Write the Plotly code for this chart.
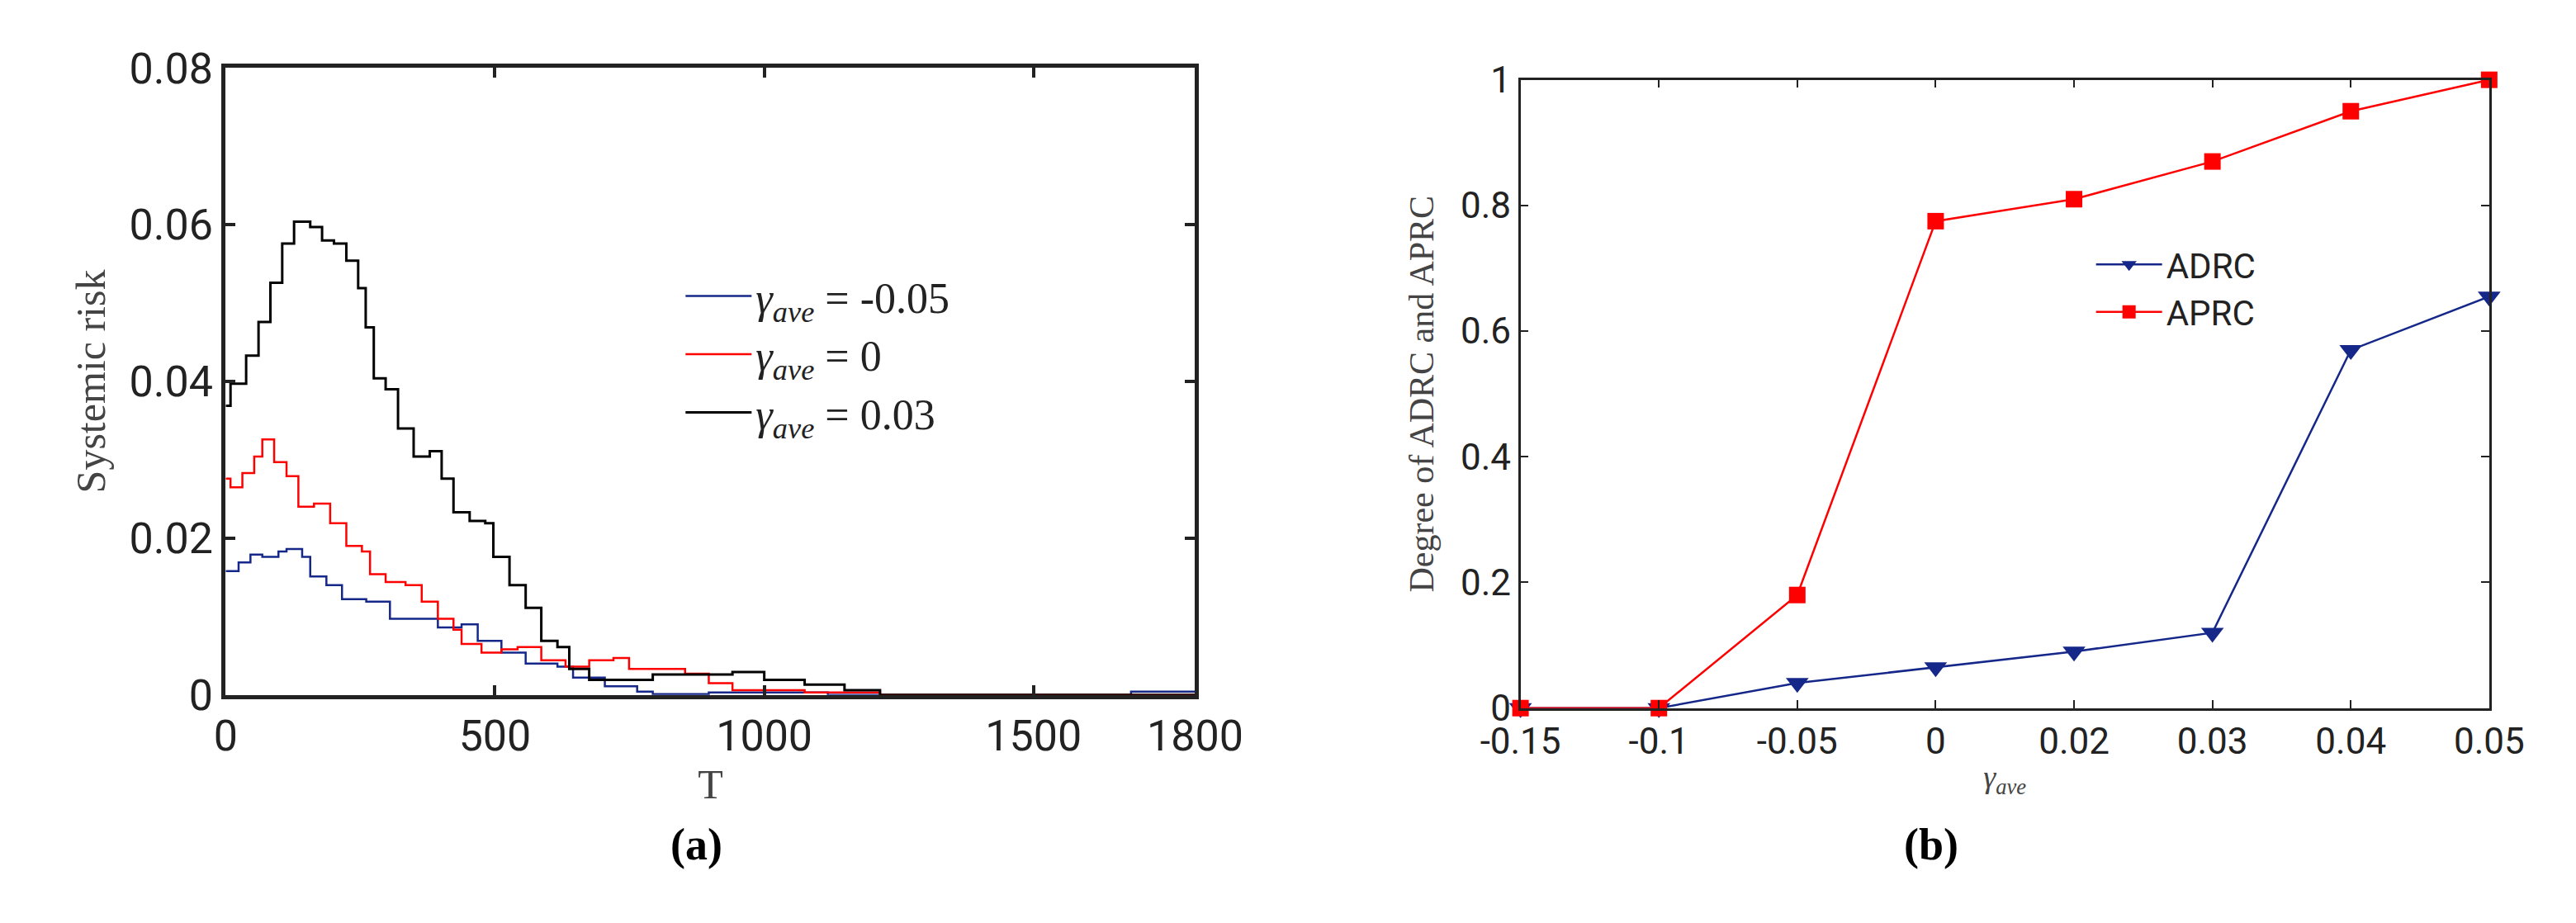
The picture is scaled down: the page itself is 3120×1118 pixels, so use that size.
import plotly.graph_objects as go

# Panel (a): systemic risk vs T (step curves)
T_black = [0,9,38,61,83,105,127,157,179,201,224,246,260,275,297,320,349,379,401,423,453,482,497,527,557,586,616,638,675,734,793,853,941,1000,1075,1149,1215,1800]
R_black = [0.0369,0.0397,0.0433,0.0476,0.0526,0.0576,0.0604,0.0597,0.058,0.0576,0.0554,0.0519,0.0469,0.0404,0.039,0.034,0.0304,0.0311,0.0276,0.0233,0.0222,0.0219,0.0176,0.014,0.0111,0.0069,0.0061,0.0033,0.0019,0.0019,0.0026,0.0026,0.0029,0.0019,0.0013,0.0006,0.0,0.0]
T_red = [0,9,31,53,68,90,113,135,164,194,224,253,268,297,334,364,394,423,438,475,512,542,586,631,675,720,749,823,853,897,941,1075,1215,1800]
R_red = [0.0276,0.0265,0.0283,0.0304,0.0326,0.0297,0.0279,0.024,0.0244,0.0219,0.019,0.0183,0.0154,0.0144,0.014,0.0119,0.0097,0.0083,0.0065,0.0054,0.0058,0.0061,0.0044,0.0036,0.0044,0.0047,0.0033,0.0033,0.0027,0.0015,0.0006,0.0003,0.0,0.0]
T_blue = [0,24,46,68,98,113,142,157,187,216,261,290,305,349,394,438,468,512,557,616,645,704,764,793,897,1104,1118,1681,1800]
R_blue = [0.0158,0.0169,0.0179,0.0176,0.0183,0.0186,0.0176,0.0151,0.014,0.0122,0.0119,0.0119,0.0097,0.0097,0.0086,0.009,0.0069,0.0054,0.004,0.0036,0.0022,0.0011,0.0004,0.0001,0.0003,0.0003,0.0,0.0004,0.0004]

# Panel (b)
gamma_labels = ["-0.15","-0.1","-0.05","0","0.02","0.03","0.04","0.05"]
ADRC = [0,0,0.04,0.065,0.09,0.12,0.57,0.655]
APRC = [0,0,0.18,0.775,0.81,0.87,0.95,1.0]

BLUE = "#15288a"
RED = "#ff0000"
SANS = "Liberation Sans Narrow, Roboto, sans-serif"
TICKF = dict(family=SANS, size=52, color="#222")
SERIF = "Liberation Serif, DejaVu Serif, serif"

fig = go.Figure()
fig.add_trace(go.Scatter(x=T_blue, y=R_blue, mode="lines", line=dict(color=BLUE, width=2.5, shape="hv"),
                         name="<i>γ<sub>ave</sub></i> = -0.05", xaxis="x", yaxis="y", legend="legend"))
fig.add_trace(go.Scatter(x=T_red, y=R_red, mode="lines", line=dict(color=RED, width=2.5, shape="hv"),
                         name="<i>γ<sub>ave</sub></i> = 0", xaxis="x", yaxis="y", legend="legend"))
fig.add_trace(go.Scatter(x=T_black, y=R_black, mode="lines", line=dict(color="black", width=3, shape="hv"),
                         name="<i>γ<sub>ave</sub></i> = 0.03", xaxis="x", yaxis="y", legend="legend"))

fig.add_trace(go.Scatter(x=gamma_labels, y=ADRC, mode="lines+markers", name="ADRC",
                         line=dict(color=BLUE, width=2.5), marker=dict(symbol="triangle-down", size=24, color=BLUE),
                         xaxis="x2", yaxis="y2", legend="legend2", cliponaxis=False))
fig.add_trace(go.Scatter(x=gamma_labels, y=APRC, mode="lines+markers", name="APRC",
                         line=dict(color=RED, width=2.5), marker=dict(symbol="square", size=20, color=RED),
                         xaxis="x2", yaxis="y2", legend="legend2", cliponaxis=False))

axcommon = dict(showgrid=False, zeroline=False, mirror="ticks", ticks="inside", linecolor="#222", tickcolor="#222")
fig.update_layout(
    width=3120, height=1118, margin=dict(l=0, r=0, t=0, b=0),
    paper_bgcolor="white", plot_bgcolor="white", showlegend=True,
    xaxis=dict(domain=[0.0718, 0.4615], range=[0, 1800], tickvals=[0,500,1000,1500,1800],
               tickfont=TICKF, linewidth=5, ticklen=12, tickwidth=4, anchor="y",
               title=dict(text="T", font=dict(family=SERIF, size=50, color="#444"), standoff=0), **axcommon),
    yaxis=dict(domain=[0.2397, 0.958], range=[0, 0.08], tickvals=[0,0.02,0.04,0.06,0.08],
               ticktext=["0","0.02","0.04","0.06","0.08"],
               tickfont=TICKF, linewidth=5, ticklen=12, tickwidth=4, anchor="x",
               title=dict(text="Systemic risk", font=dict(family=SERIF, size=50, color="#444"), standoff=15), **axcommon),
    xaxis2=dict(domain=[0.5923, 0.9817], type="category", range=[0, 7], anchor="y2",
                tickfont=dict(family=SANS, size=44, color="#222"), linewidth=2.5, ticklen=10, tickwidth=2,
                title=dict(text="<i>γ<sub>ave</sub></i>", font=dict(family=SERIF, size=38, color="#444"), standoff=5), **axcommon),
    yaxis2=dict(domain=[0.2245, 0.9445], range=[0, 1], tickvals=[0,0.2,0.4,0.6,0.8,1],
                ticktext=["0","0.2","0.4","0.6","0.8","1"], anchor="x2",
                tickfont=dict(family=SANS, size=44, color="#222"), linewidth=2.5, ticklen=10, tickwidth=2,
                title=dict(text="Degree of ADRC and APRC", font=dict(family=SERIF, size=42, color="#444"), standoff=20), **axcommon),
    legend=dict(x=0.255, y=0.735, xanchor="left", yanchor="top", bgcolor="rgba(0,0,0,0)",
                font=dict(family=SERIF, size=52, color="#222"), itemwidth=80, tracegroupgap=10),
    legend2=dict(x=0.822, y=0.765, xanchor="left", yanchor="top", bgcolor="rgba(0,0,0,0)",
                 font=dict(family=SANS, size=42, color="#222"), itemwidth=80),
    annotations=[
        dict(text="<b>(a)</b>", x=0.25, y=0.038, xref="paper", yref="paper", showarrow=False,
             font=dict(family=SERIF, size=54, color="black")),
        dict(text="<b>(b)</b>", x=0.769, y=0.038, xref="paper", yref="paper", showarrow=False,
             font=dict(family=SERIF, size=54, color="black")),
    ],
)
fig.write_html("out.html")
